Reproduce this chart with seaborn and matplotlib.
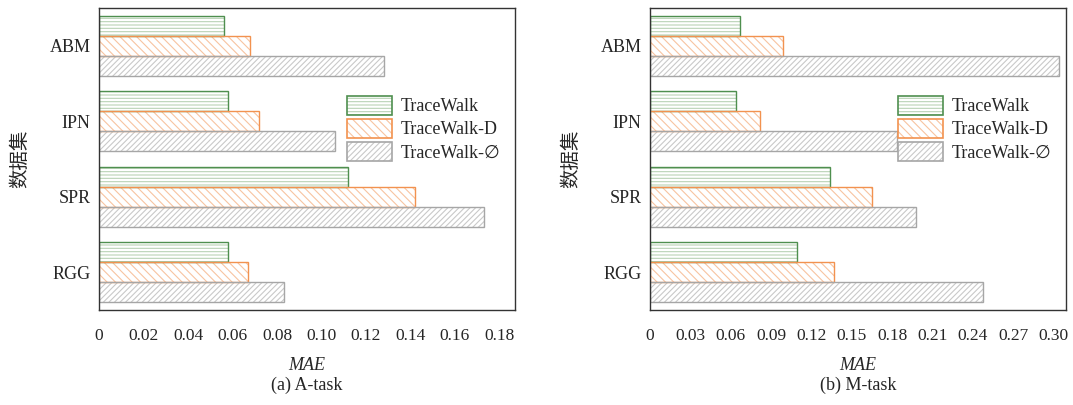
import seaborn as sns
import pandas as pd
import matplotlib
matplotlib.use("Agg")
from matplotlib import pyplot
from matplotlib.patches import Patch

datasets = ['ABM', 'IPN', 'SPR', 'RGG']
methods = ['TraceWalk', 'TraceWalk-D', 'TraceWalk-\u2205']
# MAE values
a_task = {
    'TraceWalk':        [0.056, 0.058, 0.112, 0.058],
    'TraceWalk-D':      [0.068, 0.072, 0.142, 0.067],
    'TraceWalk-\u2205': [0.128, 0.106, 0.173, 0.083],
}
m_task = {
    'TraceWalk':        [0.067, 0.064, 0.134, 0.109],
    'TraceWalk-D':      [0.099, 0.082, 0.165, 0.137],
    'TraceWalk-\u2205': [0.304, 0.184, 0.198, 0.248],
}
a_ticks = [0, 0.02, 0.04, 0.06, 0.08, 0.10, 0.12, 0.14, 0.16, 0.18]
a_ticklabels = ['0', '0.02', '0.04', '0.06', '0.08', '0.10', '0.12', '0.14', '0.16', '0.18']
m_ticks = [0, 0.03, 0.06, 0.09, 0.12, 0.15, 0.18, 0.21, 0.24, 0.27, 0.30]
m_ticklabels = ['0', '0.03', '0.06', '0.09', '0.12', '0.15', '0.18', '0.21', '0.24', '0.27', '0.30']

edge_colors = ['#4f8f4f', '#f2924f', '#a6a6a6']
hatch_colors = ['#b9d3b5', '#f7c4a0', '#c9c9c9']
hatches = ['-----', '\\\\\\\\', '//////']

sns.set_theme(style="white")
pyplot.rcParams['font.family'] = ['Liberation Serif', 'DejaVu Sans']
pyplot.rcParams['hatch.linewidth'] = 0.8


def to_frame(values):
    rows = []
    for m in methods:
        for d, v in zip(datasets, values[m]):
            rows.append({'dataset': d, 'method': m, 'mae': v})
    return pd.DataFrame(rows)


def draw(ax, values, ticks, ticklabels, xmax, caption):
    df = to_frame(values)
    # hatched fill layer
    sns.barplot(data=df, y='dataset', x='mae', hue='method', order=datasets,
                hue_order=methods, palette=hatch_colors, orient='h',
                width=0.8, ax=ax, legend=False, errorbar=None)
    for cont, hc, h in zip(ax.containers, hatch_colors, hatches):
        for p in cont:
            p.set_facecolor('white')
            p.set_edgecolor(hc)
            p.set_hatch(h)
            p.set_linewidth(0)
    # outline layer
    sns.barplot(data=df, y='dataset', x='mae', hue='method', order=datasets,
                hue_order=methods, palette=edge_colors, orient='h',
                width=0.8, ax=ax, legend=False, errorbar=None, fill=False,
                linewidth=1.0)
    ax.set_xlim(0, xmax)
    ax.set_ylim(3.5, -0.5)
    ax.set_xticks(ticks)
    ax.set_xticklabels(ticklabels, fontsize=12.5)
    ax.tick_params(axis='x', direction='in', length=5, width=0.8, color='#333333', pad=13)
    ax.tick_params(axis='y', length=0, labelsize=13, pad=6)
    for s in ax.spines.values():
        s.set_color('#333333')
        s.set_linewidth(1.0)
    ax.set_xlabel('MAE', fontsize=13, style='italic', labelpad=9)
    ax.set_ylabel('数据集', fontsize=14, family=['Noto Sans CJK SC', 'DejaVu Sans'], labelpad=14)
    ax.text(0.5, -0.22, caption, transform=ax.transAxes, ha='center', va='top', fontsize=13)
    handles = [(Patch(facecolor='white', edgecolor=hc, hatch=h, linewidth=0),
                Patch(fill=False, edgecolor=ec, linewidth=1.2))
               for ec, hc, h in zip(edge_colors, hatch_colors, hatches)]
    ax.legend(handles, methods, loc='center right', bbox_to_anchor=(1.0, 0.6),
              frameon=False, fontsize=13, handlelength=2.5, handleheight=1.2,
              handletextpad=0.5, labelspacing=0.2, borderaxespad=0.4)


fig = pyplot.figure(figsize=(10.73, 4.05), dpi=100)
ax1 = fig.add_axes([0.0923, 0.2346, 0.3877, 0.7457])
ax2 = fig.add_axes([0.6058, 0.2346, 0.3877, 0.7457])
draw(ax1, a_task, a_ticks, a_ticklabels, 0.187, '(a) A-task')
draw(ax2, m_task, m_ticks, m_ticklabels, 0.3094, '(b) M-task')
fig.savefig('out.png', dpi=100)
